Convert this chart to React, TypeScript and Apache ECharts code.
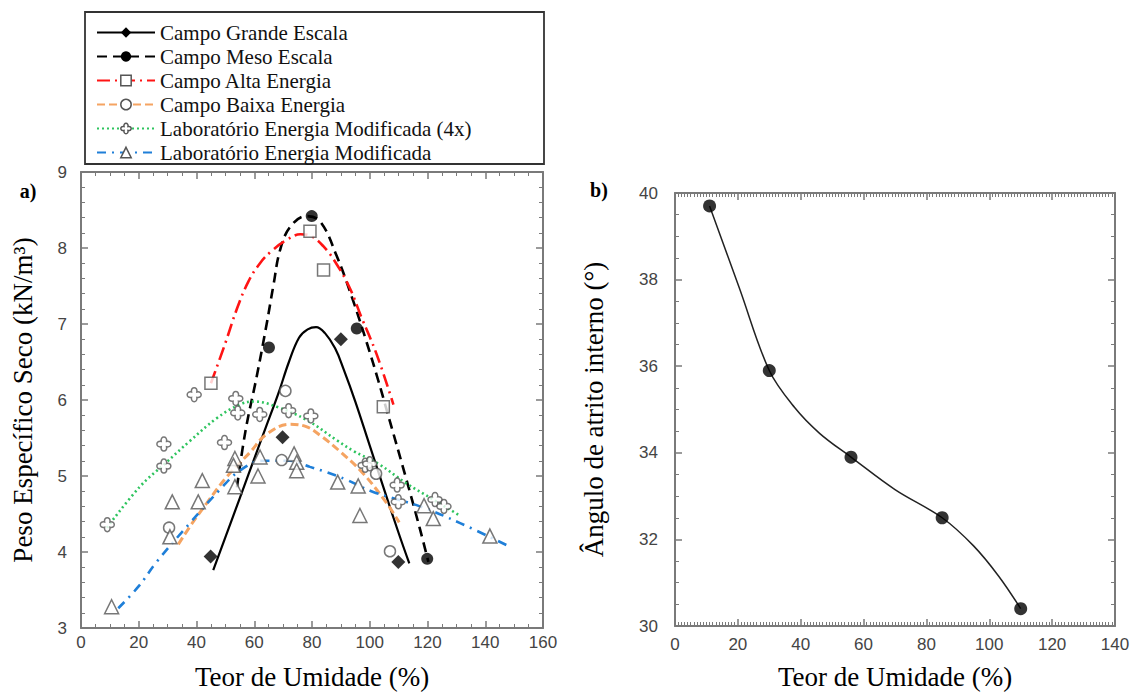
import React, { useEffect, useRef } from "react";
import * as echarts from "echarts";

// ---------- Data (a) ----------
const grandePoints = [[44.9, 3.94], [69.8, 5.51], [90, 6.8], [109.9, 3.87]];
const grandeCurve = [[45.8, 3.76], [52, 4.4], [58, 5.02], [64, 5.64], [68.3, 6.08], [72, 6.5], [75.5, 6.82], [78.5, 6.93], [81.4, 6.96], [84.5, 6.88], [88, 6.68], [91, 6.4], [95, 5.98], [100, 5.4], [105, 4.82], [110, 4.25], [113.7, 3.85]];

const mesoPoints = [[65.1, 6.69], [79.9, 8.42], [95.5, 6.94], [119.9, 3.91]];
const mesoCurve = [[54, 4.85], [57, 5.6], [60.8, 6.3], [64.3, 7.0], [66.6, 7.5], [69, 7.98], [72.5, 8.28], [78, 8.42], [82.8, 8.35], [88.5, 7.9], [94.3, 7.3], [99, 6.75], [103, 6.25], [106, 5.85], [112.8, 4.94], [117.4, 4.3], [120.3, 3.87]];

const altaPoints = [[45, 6.22], [79.3, 8.22], [84, 7.71], [104.7, 5.91]];
const altaCurve = [[45, 6.22], [50, 6.75], [54, 7.2], [58, 7.56], [62, 7.8], [66, 7.96], [71, 8.1], [76, 8.18], [80, 8.15], [84, 8.02], [88, 7.82], [93, 7.48], [97, 7.1], [102.4, 6.6], [108.2, 5.94]];

const baixaPoints = [[70.8, 6.12], [69.5, 5.21], [30.5, 4.32], [102.2, 5.03], [107, 4.01]];
const baixaCurve = [[33.7, 4.1], [38, 4.35], [43.5, 4.64], [50.5, 4.99], [58.5, 5.31], [64.3, 5.55], [72.4, 5.68], [78, 5.65], [83, 5.53], [89.5, 5.33], [97.8, 5.03], [105.9, 4.64], [110.2, 4.39]];

const lab4xPoints = [[9.1, 4.36], [28.7, 5.42], [28.7, 5.13], [39.2, 6.07], [49.7, 5.44], [53.6, 6.02], [54.3, 5.83], [61.9, 5.81], [71.9, 5.86], [79.6, 5.79], [98.4, 5.14], [100, 5.16], [109.5, 4.88], [109.9, 4.66], [122.6, 4.69], [125.7, 4.6]];
const lab4xCurve = [[9, 4.32], [20.4, 4.86], [29, 5.16], [37.7, 5.46], [47, 5.76], [55, 5.94], [60, 5.98], [67.8, 5.91], [78, 5.74], [89, 5.46], [94.3, 5.33], [103, 5.16], [112.8, 4.9], [122, 4.69], [130.7, 4.49]];

const labPoints = [[10.6, 3.28], [30.8, 4.2], [31.6, 4.66], [40.6, 4.66], [42, 4.94], [53.3, 5.23], [52.8, 5.14], [53.3, 4.86], [62, 5.25], [61.3, 5.0], [73.8, 5.29], [74.7, 5.18], [74.7, 5.07], [88.9, 4.92], [96, 4.87], [96.6, 4.48], [118.8, 4.61], [122, 4.44], [141.6, 4.21]];
const labCurve = [[12.9, 3.26], [20, 3.55], [26.2, 3.87], [37.7, 4.38], [48.1, 4.82], [55, 5.07], [63, 5.2], [72.4, 5.2], [79.3, 5.12], [85, 5.05], [92, 4.95], [101.2, 4.79], [117.4, 4.6], [131.3, 4.38], [147.4, 4.09]];

// ---------- Data (b) ----------
const umidadeB = [11, 30, 56, 85, 110];
const anguloB = [39.7, 35.9, 33.9, 32.5, 30.4];
const anguloCurve = [[11, 39.7], [20.5, 37.8], [30, 35.9], [38, 35.05], [46, 34.45], [56, 33.9], [70, 33.15], [85, 32.5], [95, 31.85], [103, 31.15], [110, 30.4]];

const legendNames = [
  "Campo Grande Escala",
  "Campo Meso Escala",
  "Campo Alta Energia",
  "Campo Baixa Energia",
  "Laboratório Energia Modificada (4x)",
  "Laboratório Energia Modificada",
];

const serif = "'Liberation Serif','Times New Roman',serif";
const sans = "'Liberation Sans',Arial,Helvetica,sans-serif";
const frame = "#7a7a7a";
const markEdge = "#555";
const quatrefoil =
  "path://M-0.35,-0.35 C-0.5,-1.1 0.5,-1.1 0.35,-0.35 C1.1,-0.5 1.1,0.5 0.35,0.35 C0.5,1.1 -0.5,1.1 -0.35,0.35 C-1.1,0.5 -1.1,-0.5 -0.35,-0.35 Z";

function makeAxis(o: any) {
  return {
    type: "value",
    gridIndex: o.grid,
    position: o.position,
    min: o.min,
    max: o.max,
    interval: o.interval,
    name: o.name,
    nameLocation: "middle",
    nameGap: o.nameGap,
    nameTextStyle: { fontFamily: serif, fontSize: 27, color: "#000" },
    axisLine: { show: true, onZero: false, lineStyle: { color: frame, width: 2 } },
    axisTick: { show: true, inside: true, length: 7, lineStyle: { color: frame, width: 1.5 } },
    minorTick: { show: true, splitNumber: o.minor, length: 4, lineStyle: { color: frame, width: 1 } },
    splitLine: { show: false },
    axisLabel: {
      show: !!o.labels,
      margin: o.margin,
      fontFamily: sans,
      fontSize: 17,
      color: "#444",
    },
  };
}

const openStyle = { color: "#fff", borderColor: markEdge, borderWidth: 1.5 };

export default function App() {
  const ref = useRef<HTMLDivElement>(null);
  useEffect(() => {
    if (!ref.current) return;
    const chart = echarts.init(ref.current, undefined, { renderer: "svg" });
    const lineBase = (name: string, data: number[][], color: string, type: any, width: number, symbol: string) => ({
      name,
      type: "line",
      data,
      xAxisIndex: 0,
      yAxisIndex: 0,
      smooth: 0.4,
      showSymbol: false,
      symbol,
      lineStyle: { color, width, type },
      z: 2,
      silent: true,
    });
    const scatterBase = (name: string, data: number[][], symbol: string, size: number, itemStyle: any) => ({
      name,
      type: "scatter",
      data,
      xAxisIndex: 0,
      yAxisIndex: 0,
      symbol,
      symbolSize: size,
      symbolKeepAspect: true,
      itemStyle,
      z: 3,
    });
    chart.setOption({
      animation: false,
      backgroundColor: "#fff",
      grid: [
        { left: 81, top: 172, width: 462, height: 464 },
        { left: 675, top: 193, width: 440, height: 437 },
      ],
      xAxis: [
        makeAxis({ grid: 0, position: "bottom", min: 0, max: 160, interval: 20, minor: 4, labels: true, margin: 6, name: "Teor de Umidade (%)", nameGap: 35 }),
        makeAxis({ grid: 0, position: "top", min: 0, max: 160, interval: 20, minor: 4 }),
        makeAxis({ grid: 1, position: "bottom", min: 0, max: 140, interval: 20, minor: 20, labels: true, margin: 10, name: "Teor de Umidade (%)", nameGap: 37 }),
        makeAxis({ grid: 1, position: "top", min: 0, max: 140, interval: 20, minor: 20 }),
      ],
      yAxis: [
        makeAxis({ grid: 0, position: "left", min: 3, max: 9, interval: 1, minor: 5, labels: true, margin: 14, name: "Peso Específico Seco (kN/m³)", nameGap: 45 }),
        makeAxis({ grid: 0, position: "right", min: 3, max: 9, interval: 1, minor: 5 }),
        makeAxis({ grid: 1, position: "left", min: 30, max: 40, interval: 2, minor: 4, labels: true, margin: 17, name: "Ângulo de atrito interno (°)", nameGap: 68 }),
        makeAxis({ grid: 1, position: "right", min: 30, max: 40, interval: 2, minor: 4 }),
      ],
      legend: {
        orient: "vertical",
        left: 96,
        top: 22,
        padding: 0,
        itemWidth: 58,
        itemHeight: 13,
        itemGap: 3,
        textStyle: { fontFamily: serif, fontSize: 21, color: "#111" },
        data: [
          { name: legendNames[0], itemStyle: { color: "#000", borderWidth: 0 } },
          { name: legendNames[1], itemStyle: { color: "#000", borderWidth: 0 } },
          { name: legendNames[2], itemStyle: openStyle },
          { name: legendNames[3], itemStyle: openStyle },
          { name: legendNames[4], itemStyle: openStyle },
          { name: legendNames[5], itemStyle: openStyle },
        ],
      },
      graphic: [
        { type: "rect", shape: { x: 85, y: 12, width: 459, height: 152 }, style: { fill: "none", stroke: "#333", lineWidth: 1.8 }, z: 0 },
        { type: "text", x: 28, y: 191, style: { text: "a)", font: `bold 20px ${serif}`, fill: "#000", align: "center", verticalAlign: "middle" } },
        { type: "text", x: 599, y: 190, style: { text: "b)", font: `bold 20px ${serif}`, fill: "#000", align: "center", verticalAlign: "middle" } },
      ],
      series: [
        lineBase(legendNames[0], grandeCurve, "#000", "solid", 2.2, "diamond"),
        lineBase(legendNames[1], mesoCurve, "#000", [10, 6], 2.6, "circle"),
        lineBase(legendNames[2], altaCurve, "#ff1414", [13, 5, 2, 5], 2.6, "rect"),
        lineBase(legendNames[3], baixaCurve, "#f5a462", [8, 4], 3, "circle"),
        lineBase(legendNames[4], lab4xCurve, "#2ec45e", [2, 3], 2.6, quatrefoil),
        lineBase(legendNames[5], labCurve, "#1f7fd8", [9, 6, 2, 6], 2.6, "triangle"),
        scatterBase("pontos Grande", grandePoints, "diamond", 14, { color: "#000" }),
        scatterBase("pontos Meso", mesoPoints, "circle", 12, { color: "#000" }),
        scatterBase("pontos Alta", altaPoints, "rect", 12, openStyle),
        scatterBase("pontos Baixa", baixaPoints, "circle", 11, openStyle),
        scatterBase("pontos Lab 4x", lab4xPoints, quatrefoil, 14, openStyle),
        scatterBase("pontos Lab", labPoints, "triangle", 14, openStyle),
        {
          name: "Curva ângulo",
          type: "line",
          xAxisIndex: 2,
          yAxisIndex: 2,
          data: anguloCurve,
          smooth: 0.35,
          showSymbol: false,
          lineStyle: { color: "#222", width: 1.5 },
          silent: true,
        },
        {
          name: "Ângulo de atrito interno",
          type: "scatter",
          xAxisIndex: 2,
          yAxisIndex: 2,
          data: umidadeB.map((u, i) => [u, anguloB[i]]),
          symbol: "circle",
          symbolSize: 13,
          itemStyle: { color: "#000" },
          z: 3,
        },
      ],
    });
    return () => chart.dispose();
  }, []);
  return <div ref={ref} style={{ position: "fixed", left: 0, top: 0, width: 1137, height: 695, background: "#fff" }} />;
}
